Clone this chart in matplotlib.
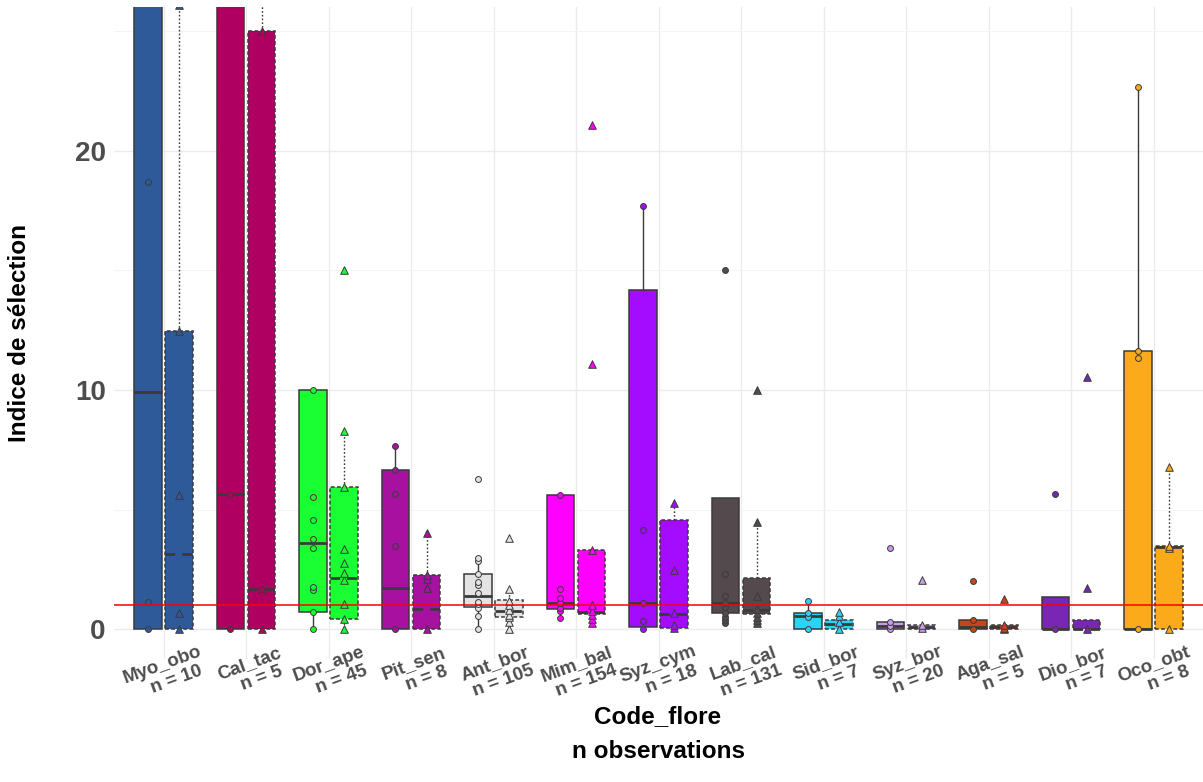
import matplotlib
matplotlib.use("Agg")
import matplotlib.pyplot as plt
import numpy as np
from matplotlib.ticker import MultipleLocator, FixedLocator
from matplotlib import transforms

plt.rcParams['font.family'] = ['Liberation Sans', 'DejaVu Sans']

# Species codes, number of observations and fill colours
codes = ["Myo_obo", "Cal_tac", "Dor_ape", "Pit_sen", "Ant_bor", "Mim_bal", "Syz_cym",
         "Lab_cal", "Sid_bor", "Syz_bor", "Aga_sal", "Dio_bor", "Oco_obt"]
n_obs = [10, 5, 45, 8, 105, 154, 18, 131, 7, 20, 5, 7, 8]
colors = ["#2F5A9A", "#AF0061", "#19FF33", "#A810A0", "#E3E3E3", "#FF00FF", "#A40CFF",
          "#544A4E", "#2AD4F6", "#CB9BEA", "#C8441B", "#7926B5", "#FBAA1A"]

# Group 1 (solid boxes, circles): box statistics
q1_a = [0.0, 0.0, 0.74, 0.0, 0.94, 0.84, 0.08, 0.67, 0.0, 0.0, 0.0, 0.0, 0.0]
med_a = [9.9, 5.64, 3.62, 1.71, 1.40, 1.11, 1.11, 1.09, 0.57, 0.15, 0.10, 0.0, 0.0]
q3_a = [30.0, 29.0, 10.0, 6.66, 2.31, 5.61, 14.2, 5.47, 0.69, 0.29, 0.39, 1.36, 11.63]
lo_a = [0.0, 0.0, 0.0, 0.0, 0.0, 0.46, 0.0, 0.25, 0.0, 0.0, 0.0, 0.0, 0.0]
hi_a = [40.0, 35.0, 10.0, 7.66, 2.97, 5.61, 17.7, 5.47, 1.18, 0.29, 0.39, 1.36, 22.66]
pts_a = [
    [0.0, 1.13, 18.7],
    [0.0, 5.64],
    [0.0, 0.74, 1.64, 1.75, 3.41, 3.79, 4.57, 5.54, 10.0],
    [0.0, 3.48, 5.64, 6.66, 7.66],
    [0.0, 0.56, 0.9, 1.05, 1.15, 1.5, 1.85, 1.99, 2.31, 2.84, 2.97, 6.3],
    [0.46, 0.75, 0.9, 1.1, 1.3, 1.68, 5.61],
    [0.0, 0.35, 1.11, 4.15, 17.7],
    [0.25, 0.39, 0.53, 0.7, 0.94, 1.1, 1.4, 2.3, 15.0],
    [0.0, 0.53, 0.69, 1.18],
    [0.0, 0.15, 0.3, 3.41],
    [0.0, 0.39, 2.03],
    [0.0, 5.64],
    [0.0, 11.34, 11.63, 22.66],
]

# Group 2 (dashed boxes, triangles): box statistics
q1_b = [0.0, 0.0, 0.42, 0.0, 0.53, 0.64, 0.04, 0.63, 0.0, 0.0, 0.0, 0.0, 0.0]
med_b = [3.13, 1.68, 2.16, 0.84, 0.77, 0.74, 0.64, 0.81, 0.22, 0.08, 0.08, 0.0, 3.45]
q3_b = [12.46, 25.0, 5.96, 2.27, 1.22, 3.31, 4.57, 2.13, 0.39, 0.18, 0.18, 0.39, 3.48]
lo_b = [0.0, 0.0, 0.0, 0.0, 0.0, 0.25, 0.0, 0.21, 0.0, 0.0, 0.0, 0.0, 0.0]
hi_b = [26.1, 31.0, 8.3, 4.01, 1.67, 3.31, 5.29, 4.5, 0.74, 0.18, 0.18, 0.39, 6.79]
pts_b = [
    [0.0, 0.67, 5.61, 12.46, 26.1],
    [0.0, 1.68, 25.0],
    [0.0, 0.44, 1.06, 2.06, 2.34, 2.76, 3.34, 5.96, 8.3, 15.0],
    [0.0, 1.71, 2.1, 2.27, 4.01],
    [0.0, 0.3, 0.5, 0.6, 0.8, 1.0, 1.2, 1.67, 3.8],
    [0.25, 0.42, 0.6, 0.75, 1.02, 3.31, 11.1, 21.1],
    [0.05, 0.18, 0.69, 2.5, 5.29],
    [0.25, 0.4, 0.5, 0.7, 0.85, 1.4, 4.5, 10.0],
    [0.0, 0.32, 0.55, 0.74],
    [0.05, 0.2, 2.06],
    [0.0, 0.05, 0.18, 1.25],
    [0.0, 1.71, 10.55],
    [0.0, 3.4, 3.48, 6.79],
]

threshold = 1.0

DPI = 100
fig = plt.figure(figsize=(12.03, 7.82), dpi=DPI)
ax = fig.add_axes([114 / 1203, (782 - 659) / 782, (1203 - 114) / 1203, (659 - 7.3) / 782])

x = np.arange(len(codes))
offset = 0.188
width = 0.33
edge = "#3A3A3A"


def make_stats(q1, med, q3, lo, hi):
    return [dict(q1=a, med=m, q3=c, whislo=l, whishi=h, fliers=[])
            for a, m, c, l, h in zip(q1, med, q3, lo, hi)]


bx_a = ax.bxp(make_stats(q1_a, med_a, q3_a, lo_a, hi_a), positions=x - offset, widths=width,
              patch_artist=True, showcaps=False, showfliers=False, manage_ticks=False,
              boxprops=dict(edgecolor=edge, linewidth=1.1),
              medianprops=dict(color=edge, linewidth=2.0, solid_capstyle="butt"),
              whiskerprops=dict(color=edge, linewidth=1.0))
bx_b = ax.bxp(make_stats(q1_b, med_b, q3_b, lo_b, hi_b), positions=x + offset, widths=width,
              patch_artist=True, showcaps=False, showfliers=False, manage_ticks=False,
              boxprops=dict(edgecolor=edge, linewidth=1.1, linestyle=(0, (2.5, 1.5))),
              medianprops=dict(color=edge, linewidth=2.0, linestyle=(0, (3.5, 2.5))),
              whiskerprops=dict(color=edge, linewidth=1.0, linestyle=(0, (1.2, 1.5))))

for patch, col in zip(bx_a["boxes"], colors):
    patch.set_facecolor(col)
for patch, col in zip(bx_b["boxes"], colors):
    patch.set_facecolor(col)

for i, col in enumerate(colors):
    ya = pts_a[i]
    yb = pts_b[i]
    ax.scatter(np.full(len(ya), x[i] - offset), ya, s=18, marker="o", facecolor=col,
               edgecolor=edge, linewidth=0.7, zorder=5, clip_on=True)
    ax.scatter(np.full(len(yb), x[i] + offset), yb, s=30, marker="^", facecolor=col,
               edgecolor=edge, linewidth=0.7, zorder=5, clip_on=True)

ax.axhline(threshold, color="red", linewidth=1.1, zorder=10)

ax.set_xlim(-0.6, 12.6)
ax.set_ylim(-1.24, 26.0)

ax.yaxis.set_major_locator(MultipleLocator(10))
ax.yaxis.set_minor_locator(MultipleLocator(5))
ax.xaxis.set_major_locator(FixedLocator(x))
ax.set_axisbelow(True)
ax.grid(which="major", color="#EBEBEB", linewidth=1.0)
ax.grid(which="minor", axis="y", color="#F3F3F3", linewidth=0.6)
for s in ax.spines.values():
    s.set_visible(False)
ax.tick_params(axis="both", which="both", length=0)
ax.tick_params(axis="y", pad=6)

ax.set_yticks([0, 10, 20])
ax.set_yticklabels(["0", "10", "20"], fontsize=20, fontweight="bold", color="#4D4D4D")
ax.set_xticklabels([])

# Two-line rotated category labels, justified at 78 % of each line's length
angle = 20.0
hjust = 0.78
line_gap = 19.0          # px between the two baselines
anchor_dx, anchor_dy = 22.0, -2.0   # px from tick / panel bottom to the justification point
label_kw = dict(fontsize=13.5, fontweight="bold", color="#4D4D4D")
renderer = fig.canvas.get_renderer()
ca, sa = np.cos(np.radians(angle)), np.sin(np.radians(angle))
px2pt = 72.0 / DPI
xform = transforms.blended_transform_factory(ax.transData, ax.transAxes)
for i, (c, n) in enumerate(zip(codes, n_obs)):
    lines = [c, f"n = {n}"]
    for k, txt in enumerate(lines):
        probe = fig.text(0, 0, txt, **label_kw)
        w = probe.get_window_extent(renderer=renderer).width
        probe.remove()
        cx = anchor_dx + k * line_gap * sa + (0.5 - hjust) * w * ca
        cy = anchor_dy - k * line_gap * ca + (0.5 - hjust) * w * sa
        ax.annotate(txt, xy=(x[i], 0), xycoords=xform, xytext=(cx * px2pt, cy * px2pt),
                    textcoords="offset points", rotation=angle, rotation_mode="anchor",
                    ha="center", va="baseline", annotation_clip=False, **label_kw)

fig.text(20 / 1203, 1 - 333 / 782, "Indice de sélection", rotation=90, ha="center",
         va="center", fontsize=17.5, fontweight="bold", color="black")
fig.text(658 / 1203, 1 - 734 / 782, "Code_flore\nn observations", ha="center", va="center",
         multialignment="center", fontsize=17.5, fontweight="bold", color="black",
         linespacing=1.65)

fig.savefig("out.png", dpi=DPI)
